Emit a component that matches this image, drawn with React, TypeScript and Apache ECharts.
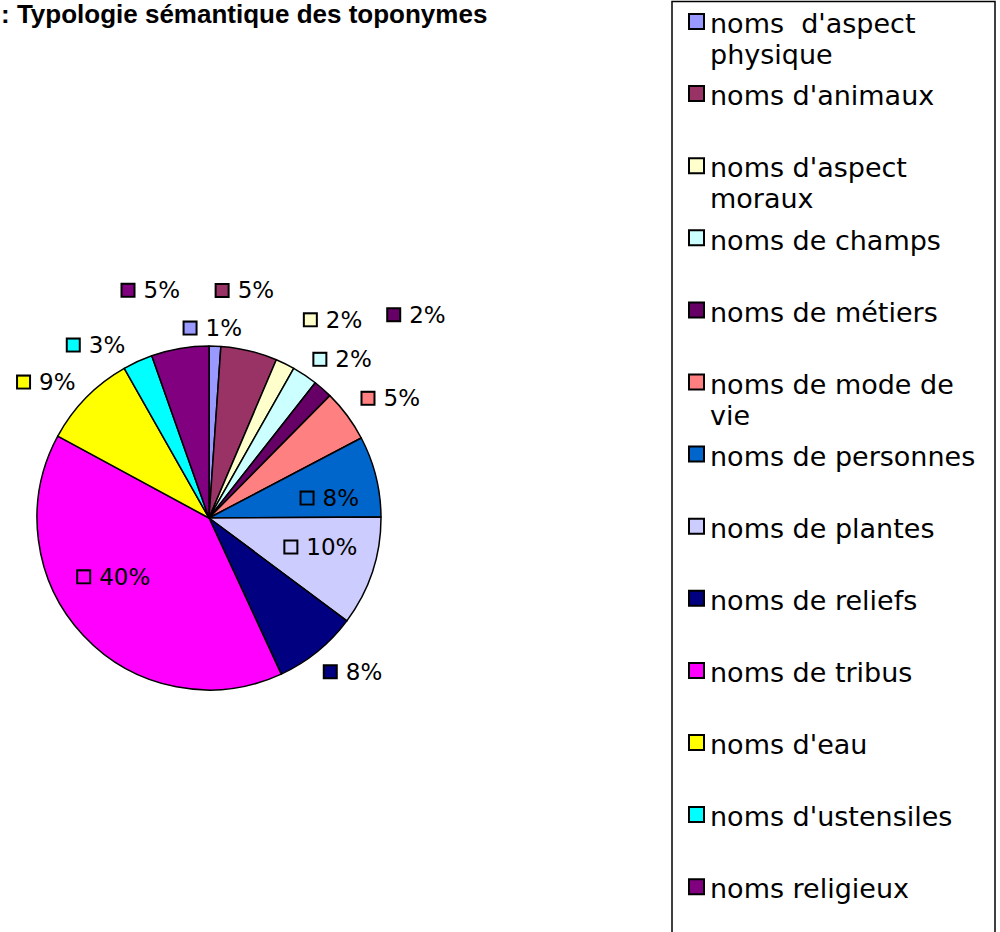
import React, { useEffect, useRef } from "react";
import * as echarts from "echarts";

// ---- Data ----
const TITLE = ": Typologie sémantique des toponymes";
const CATEGORIES = [
  "noms  d'aspect physique",
  "noms d'animaux",
  "noms d'aspect moraux",
  "noms de champs",
  "noms de métiers",
  "noms de mode de vie",
  "noms de personnes",
  "noms de plantes",
  "noms de reliefs",
  "noms de tribus",
  "noms d'eau",
  "noms d'ustensiles",
  "noms religieux",
];
// shares in percent
const SHARES = [1.1, 5.3, 1.8, 2.4, 1.8, 4.9, 7.6, 10.3, 7.9, 39.8, 8.9, 2.8, 5.4];
const COLORS = [
  "#9999FF",
  "#993366",
  "#FFFFCC",
  "#CCFFFF",
  "#660066",
  "#FF8080",
  "#0066CC",
  "#CCCCFF",
  "#000080",
  "#FF00FF",
  "#FFFF00",
  "#00FFFF",
  "#800080",
];

// ---- Label placement style (label line lengths, lines hidden) ----
const LABEL_LEN = [18, 62, 49, 19, 99, 29, -90, -79, 26, -86, 22, 18, 59];
const LABEL_LEN2 = [-36, -52, -7, -6, -5, -13, 8, -17, -14, -9, -10, 0, -15];

const PIE_FONT = "'DejaVu Sans', sans-serif";
const LEGEND_FONT = "'DejaVu Sans', sans-serif";

export default function App() {
  const ref = useRef<HTMLDivElement>(null);

  useEffect(() => {
    document.body.style.margin = "0";
    if (!ref.current) return;
    const chart = echarts.init(ref.current, undefined, { renderer: "svg" });

    const richFor = (color: string) => ({
      b: {
        width: 11,
        height: 11,
        backgroundColor: color,
        borderColor: "#000",
        borderWidth: 2,
      },
      t: {
        fontSize: 23,
        fontFamily: PIE_FONT,
        color: "#000",
        padding: [0, 0, 0, 10],
      },
    });

    const data = CATEGORIES.map((name, i) => ({
      name,
      value: SHARES[i],
      itemStyle: { color: COLORS[i] },
      label: { rich: richFor(COLORS[i]) },
      labelLine: { show: false, length: LABEL_LEN[i], length2: LABEL_LEN2[i] },
    }));

    const legendTop = 21.5;
    const legendStep = 72.1;
    const legendGraphics: any[] = [
      {
        type: "rect",
        z: 1,
        shape: { x: 672, y: 1.5, width: 323, height: 1000 },
        style: { fill: "#fff", stroke: "#000", lineWidth: 1.5 },
      },
    ];
    CATEGORIES.forEach((name, i) => {
      const yc = legendTop + legendStep * i;
      legendGraphics.push({
        type: "rect",
        z: 2,
        shape: { x: 689, y: yc - 7.5, width: 15, height: 15 },
        style: { fill: COLORS[i], stroke: "#000", lineWidth: 2 },
      });
      legendGraphics.push({
        type: "text",
        z: 2,
        x: 710,
        y: yc - 13.3,
        style: {
          text: name,
          fill: "#000",
          font: `27px ${LEGEND_FONT}`,
          lineHeight: 31,
          width: 280,
          overflow: "break",
          align: "left",
          verticalAlign: "top",
        },
      });
    });

    chart.setOption({
      animation: false,
      backgroundColor: "#fff",
      graphic: [
        {
          type: "text",
          x: 1,
          y: 14,
          style: {
            text: TITLE,
            fill: "#000",
            font: "bold 26px 'Liberation Sans', Arial, sans-serif",
            align: "left",
            verticalAlign: "middle",
          },
        },
        ...legendGraphics,
      ],
      series: [
        {
          type: "pie",
          center: [209, 518],
          radius: 172,
          startAngle: 90,
          clockwise: true,
          avoidLabelOverlap: false,
          silent: true,
          emphasis: { disabled: true },
          itemStyle: { borderColor: "#000", borderWidth: 1.5 },
          label: {
            show: true,
            position: "outside",
            formatter: (p: any) => `{b|}{t|${Math.round(p.percent)}%}`,
            rich: richFor("#fff"),
          },
          labelLine: { show: false },
          data,
        },
      ],
    });

    return () => {
      chart.dispose();
    };
  }, []);

  return <div ref={ref} style={{ width: 1000, height: 932 }} />;
}
